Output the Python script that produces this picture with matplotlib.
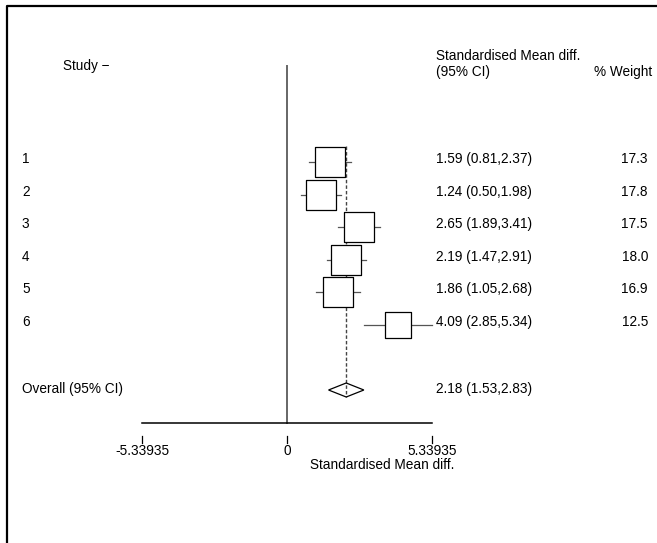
import matplotlib
matplotlib.use("Agg")
import matplotlib.pyplot as plt
from matplotlib.lines import Line2D
from matplotlib.patches import Polygon
import matplotlib.transforms as mtransforms

# ---- data ----
studies = ["1", "2", "3", "4", "5", "6"]
smd = [1.59, 1.24, 2.65, 2.19, 1.86, 4.09]
ci_lo = [0.81, 0.50, 1.89, 1.47, 1.05, 2.85]
ci_hi = [2.37, 1.98, 3.41, 2.91, 2.68, 5.34]
weights = [17.3, 17.8, 17.5, 18.0, 16.9, 12.5]
overall_label = "Overall (95% CI)"
overall_est = 2.18
overall_lo = 1.53
overall_hi = 2.83
axis_limit = 5.33935
tick_values = [-5.33935, 0, 5.33935]
tick_labels = ["-5.33935", "0", "5.33935"]

plt.rcParams['font.family'] = ['Liberation Sans', 'DejaVu Sans']
FS = 9.8

W, H = 657, 543
fig = plt.figure(figsize=(W / 100, H / 100), dpi=100)
ax = fig.add_axes([0, 0, 1, 1])
ax.set_axis_off()

# pixel mapping
x0px, pxu = 287.0, 145.0 / axis_limit
row1px, rowsp = 162.0, 32.6
ax.set_xlim(-x0px / pxu, (W - x0px) / pxu)
ax.set_ylim(1 + (H - row1px) / rowsp, 1 - row1px / rowsp)

def prow(py):
    return 1 + (py - row1px) / rowsp

txt_off = -3.0 / rowsp  # text sits slightly above the marks
tx = mtransforms.blended_transform_factory(fig.transFigure, ax.transData)

# frame (left and top only visible)
fig.add_artist(Line2D([6.5 / W, 6.5 / W, 1], [0, 1 - 5.5 / H, 1 - 5.5 / H],
                      transform=fig.transFigure, color="black", lw=1.6))

# headers
ax.text(63 / W, prow(66), "Study \u2212", transform=tx, fontsize=FS, va="center", ha="left")
ax.text(436 / W, prow(56), "Standardised Mean diff.", transform=tx, fontsize=FS, va="center", ha="left")
ax.text(436 / W, prow(72), "(95% CI)", transform=tx, fontsize=FS, va="center", ha="left")
ax.text(652 / W, prow(72), "% Weight", transform=tx, fontsize=FS, va="center", ha="right")

# null line
ax.plot([0, 0], [prow(66), prow(423)], color="#666666", lw=1.4, zorder=1)

n = len(studies)
rows = list(range(1, n + 1))
overall_row = prow(390)

# dashed overall line
ax.plot([overall_est, overall_est], [prow(146), overall_row + 0.2],
        color="#444444", lw=1.0, ls=(0, (2.5, 1.5)), zorder=2)

for r, lab, m, lo, hi, w in zip(rows, studies, smd, ci_lo, ci_hi, weights):
    ax.plot([lo, hi], [r, r], color="#555555", lw=0.9, zorder=3)
    ax.scatter([m], [r], marker="s", s=27.5 * w, facecolor="white",
               edgecolor="black", linewidths=0.9, zorder=4)
    ax.text(22 / W, r + txt_off, lab, transform=tx, fontsize=FS, va="center", ha="left")
    ax.text(436 / W, r + txt_off, f"{m:.2f} ({lo:.2f},{hi:.2f})", transform=tx,
            fontsize=FS, va="center", ha="left")
    ax.text(648 / W, r + txt_off, f"{w:.1f}", transform=tx, fontsize=FS, va="center", ha="right")

# overall diamond
hh = 7.0 / rowsp
diamond = Polygon([(overall_lo, overall_row), (overall_est, overall_row - hh),
                   (overall_hi, overall_row), (overall_est, overall_row + hh)],
                  closed=True, facecolor="none", edgecolor="black", lw=0.9, zorder=5)
ax.add_patch(diamond)
ax.text(22 / W, overall_row - 1 / rowsp, overall_label, transform=tx, fontsize=FS, va="center", ha="left")
ax.text(436 / W, overall_row - 1 / rowsp, f"{overall_est:.2f} ({overall_lo:.2f},{overall_hi:.2f})",
        transform=tx, fontsize=FS, va="center", ha="left")

# x axis
ya = prow(423)
ax.plot([-axis_limit, axis_limit], [ya, ya], color="black", lw=1.1)
for tv, tl in zip(tick_values, tick_labels):
    ax.plot([tv, tv], [prow(436), prow(443)], color="black", lw=0.9)
    ax.text(tv, prow(451), tl, fontsize=FS, va="center", ha="center")
ax.text(310 / W, prow(465), "Standardised Mean diff.", transform=tx,
        fontsize=FS, va="center", ha="left")

fig.savefig("out.png", dpi=100)
